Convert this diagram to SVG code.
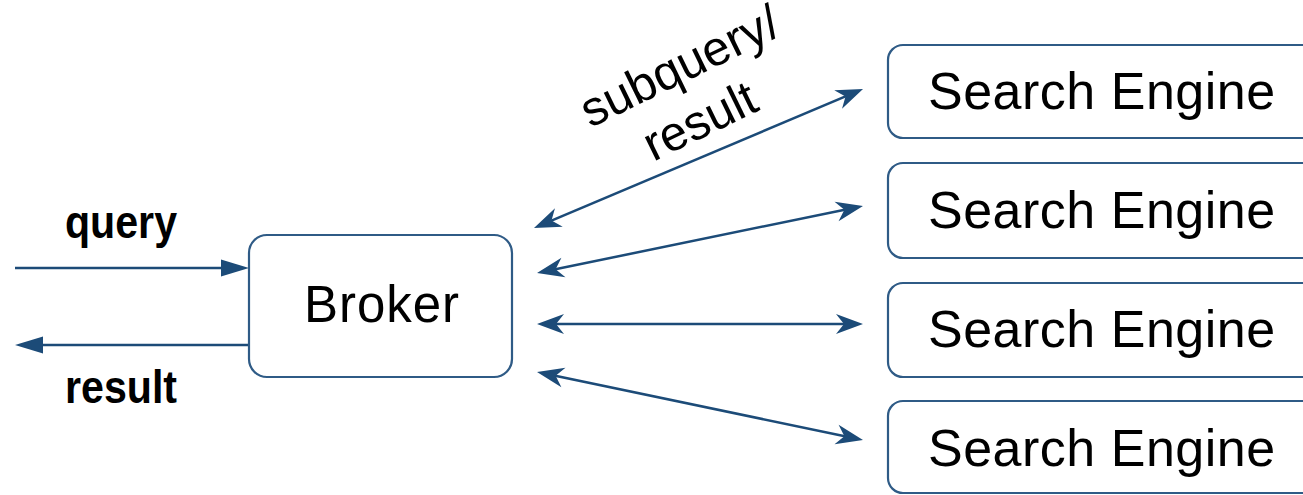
<svg xmlns="http://www.w3.org/2000/svg" width="1303" height="495" viewBox="0 0 1303 495">
  <style>
    .box { fill: #ffffff; stroke: #2f5b86; stroke-width: 2.2; }
    .wire { fill: none; stroke: #1c4b78; stroke-width: 2.5; }
    .label { font-family: "Liberation Sans", Arial, sans-serif; fill: #000000; }
    .node-text { font-size: 52px; letter-spacing: 0.5px; }
    .io-text { font-size: 46px; font-weight: bold; }
    .edge-text { font-size: 49px; text-anchor: middle; }
  </style>
  <defs>
    <!-- plain filled head for the query/result lines -->
    <marker id="tri" markerUnits="userSpaceOnUse" viewBox="-21 -9 30 18" refX="0" refY="0" markerWidth="30" markerHeight="18" orient="auto-start-reverse">
      <path d="M8,0 L-20,-8.5 L-20,8.5 Z" fill="#1c4b78"/>
    </marker>
    <!-- notched head for the broker/engine links -->
    <marker id="barb" markerUnits="userSpaceOnUse" viewBox="-18 -11 29 22" refX="0" refY="0" markerWidth="29" markerHeight="22" orient="auto-start-reverse">
      <path d="M10,0 L-17,-10 L-9,0 L-17,10 Z" fill="#1c4b78"/>
    </marker>
  </defs>

  <rect width="1303" height="495" fill="#ffffff"/>

  <g id="connectors">
    <line class="wire" x1="15" y1="268" x2="241" y2="268" marker-end="url(#tri)"/>
    <line class="wire" x1="249" y1="345" x2="23" y2="345" marker-end="url(#tri)"/>
    <line class="wire" x1="543.2" y1="224.1" x2="853.8" y2="92.9" marker-start="url(#barb)" marker-end="url(#barb)"/>
    <line class="wire" x1="546.8" y1="271" x2="853.2" y2="208" marker-start="url(#barb)" marker-end="url(#barb)"/>
    <line class="wire" x1="547" y1="324" x2="853" y2="324" marker-start="url(#barb)" marker-end="url(#barb)"/>
    <line class="wire" x1="546.8" y1="374" x2="853.2" y2="438" marker-start="url(#barb)" marker-end="url(#barb)"/>
  </g>

  <g id="labels">
    <text class="label io-text" x="65" y="238" textLength="112" lengthAdjust="spacingAndGlyphs">query</text>
    <text class="label io-text" x="65" y="403" textLength="112" lengthAdjust="spacingAndGlyphs">result</text>
    <g transform="translate(687,81) rotate(-26)">
      <text class="label edge-text" x="0" y="0">subquery/</text>
      <text class="label edge-text" x="-6" y="58">result</text>
    </g>
  </g>

  <g id="broker">
    <rect class="box" x="249" y="235" width="263" height="142" rx="18"/>
    <text class="label" x="382" y="322" font-size="51" letter-spacing="1" text-anchor="middle">Broker</text>
  </g>

  <g id="engine-1">
    <rect class="box" x="888" y="45" width="450" height="93" rx="15"/>
    <text class="label node-text" x="928" y="109">Search Engine</text>
  </g>
  <g id="engine-2">
    <rect class="box" x="888" y="163" width="450" height="95" rx="15"/>
    <text class="label node-text" x="928" y="228">Search Engine</text>
  </g>
  <g id="engine-3">
    <rect class="box" x="888" y="283" width="450" height="94" rx="15"/>
    <text class="label node-text" x="928" y="347">Search Engine</text>
  </g>
  <g id="engine-4">
    <rect class="box" x="888" y="401" width="450" height="92" rx="15"/>
    <text class="label node-text" x="928" y="466">Search Engine</text>
  </g>
</svg>
